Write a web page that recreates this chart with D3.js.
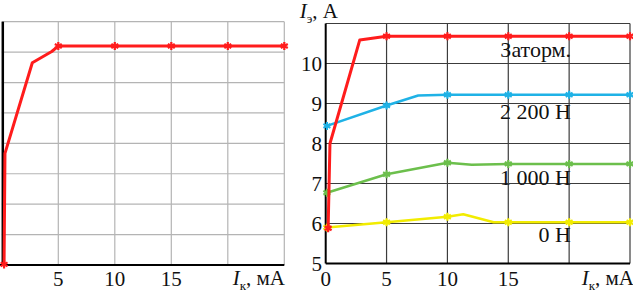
<!DOCTYPE html>
<html>
<head>
<meta charset="utf-8">
<script src="https://cdn.jsdelivr.net/npm/d3@7"></script>
<style>
  html, body { margin: 0; padding: 0; background: #fff; }
  svg { display: block; }
  svg text { font-family: 'Liberation Serif', 'Tinos', 'Times New Roman'; }
</style>
</head>
<body>
<div id="chart"></div>
<script>
// ---- data ----
const xTicksLeft = [5, 10, 15];
const xTicksRight = [0, 5, 10, 15];
const yTicksRight = [5, 6, 7, 8, 9, 10];
const markX = [5, 10, 15, 20, 25];

// left (cropped) panel, values in grid units
const leftX = [0.2, 0.28, 2.7, 4.42, 5, 10, 15, 20, 25];
const leftY = [0.02, 3.67, 6.65, 7.02, 7.2, 7.2, 7.2, 7.2, 7.2];

// right panel, I_э (A) vs I_к (mA)
const redX = [0.2, 0.35, 2.8, 5, 10, 15, 20, 25];
const redY = [5.88, 8.0, 10.59, 10.68, 10.68, 10.68, 10.68, 10.68];
const blueX = [0.1, 5, 7.6, 10, 15, 20, 25];
const blueY = [8.44, 8.95, 9.2, 9.22, 9.22, 9.22, 9.22];
const greenX = [0.1, 5, 10, 12, 15, 20, 25];
const greenY = [6.77, 7.23, 7.52, 7.47, 7.49, 7.49, 7.49];
const yellowX = [0.1, 5, 10, 11.3, 13.8, 15, 20, 25];
const yellowY = [5.9, 6.03, 6.17, 6.23, 6.03, 6.03, 6.03, 6.03];

const seriesLabels = ["Заторм.", "2 200 Н", "1 000 Н", "0 Н"];
const labelY = [10.16, 8.61, 6.96, 5.54];   // baseline, in A

const svg = d3.select("#chart").append("svg")
    .attr("width", 633)
    .attr("height", 293);

const zip = (xs, ys) => xs.map((x, i) => ({ x: x, y: ys[i] }));
const star = d3.symbol().type(d3.symbolAsterisk).size(45);

function drawSeries(g, x, y, pts, color, width) {
    const line = d3.line().x(d => x(d.x)).y(d => y(d.y));
    g.append("path")
        .datum(pts)
        .attr("fill", "none")
        .attr("stroke", color)
        .attr("stroke-width", width)
        .attr("stroke-linejoin", "round")
        .attr("d", line);
    const marks = pts.filter((d, i) => i === 0 || markX.includes(d.x));
    g.selectAll(null)
        .data(marks)
        .enter().append("path")
        .attr("transform", d => `translate(${x(d.x)},${y(d.y)})`)
        .attr("d", star)
        .attr("fill", "none")
        .attr("stroke", color)
        .attr("stroke-width", 2.2);
}

function txt(g, x, y, s, anchor, size) {
    return g.append("text")
        .attr("x", x).attr("y", y)
        .attr("text-anchor", anchor)
        .attr("font-family", "'Liberation Serif'")
        .attr("font-size", size || 21)
        .attr("fill", "#111")
        .text(s);
}

function axisTitle(g, xEnd, yBase, sub, unit) {
    const t = txt(g, xEnd, yBase, "", "end", 21);
    t.append("tspan").attr("font-style", "italic").text("I");
    t.append("tspan").attr("dy", 5).attr("font-size", 13).text(sub);
    t.append("tspan").attr("dy", -5).text(", " + unit);
}

// ---------- left panel ----------
const xL = d3.scaleLinear().domain([0, 25]).range([1.8, 284.3]);
const yL = d3.scaleLinear().domain([0, 8]).range([265, 21.7]);
const gL = svg.append("g");

gL.selectAll(null).data(d3.range(5, 26, 5)).enter().append("line")
    .attr("x1", d => xL(d)).attr("x2", d => xL(d))
    .attr("y1", yL(0)).attr("y2", yL(8))
    .attr("stroke", "#b4b4b4").attr("stroke-width", 1.2);
gL.selectAll(null).data(d3.range(1, 9)).enter().append("line")
    .attr("x1", xL(0)).attr("x2", xL(25))
    .attr("y1", d => yL(d)).attr("y2", d => yL(d))
    .attr("stroke", "#b4b4b4").attr("stroke-width", 1.2);
gL.append("line")
    .attr("x1", xL(0) + 1).attr("x2", xL(0) + 1)
    .attr("y1", yL(8)).attr("y2", yL(0))
    .attr("stroke", "#000").attr("stroke-width", 2.5);
gL.append("line")
    .attr("x1", 0).attr("x2", xL(25))
    .attr("y1", yL(0)).attr("y2", yL(0))
    .attr("stroke", "#000").attr("stroke-width", 2);

drawSeries(gL, xL, yL, zip(leftX, leftY), "#ff1c1c", 3);

xTicksLeft.forEach(d => txt(gL, xL(d), 286, String(d), "middle", 21));
axisTitle(gL, 285, 285, "к", "мА");

// ---------- right panel ----------
const xR = d3.scaleLinear().domain([0, 25]).range([325.7, 630]);
const yR = d3.scaleLinear().domain([5, 11]).range([263.5, 23.5]);
const gR = svg.append("g");

gR.selectAll(null).data(d3.range(5, 26, 5)).enter().append("line")
    .attr("x1", d => xR(d)).attr("x2", d => xR(d))
    .attr("y1", yR(5)).attr("y2", yR(11))
    .attr("stroke", "#3c3c3c").attr("stroke-width", 1.2);
gR.selectAll(null).data(d3.range(6, 12)).enter().append("line")
    .attr("x1", xR(0)).attr("x2", xR(25))
    .attr("y1", d => yR(d)).attr("y2", d => yR(d))
    .attr("stroke", "#3c3c3c").attr("stroke-width", 1.2);
gR.append("line")
    .attr("x1", xR(0)).attr("x2", xR(0))
    .attr("y1", yR(11)).attr("y2", yR(5))
    .attr("stroke", "#000").attr("stroke-width", 2);
gR.append("line")
    .attr("x1", xR(0)).attr("x2", xR(25))
    .attr("y1", yR(5)).attr("y2", yR(5))
    .attr("stroke", "#000").attr("stroke-width", 2);

drawSeries(gR, xR, yR, zip(yellowX, yellowY), "#f2ec00", 2.5);
drawSeries(gR, xR, yR, zip(greenX, greenY), "#6cbf4c", 2.5);
drawSeries(gR, xR, yR, zip(blueX, blueY), "#1fb2e6", 2.5);
drawSeries(gR, xR, yR, zip(redX, redY), "#ff1c1c", 3);

seriesLabels.forEach((s, i) => txt(gR, 571, yR(labelY[i]), s, "end", 22));

xTicksRight.forEach(d => txt(gR, xR(d), 286, String(d), "middle", 21));
yTicksRight.forEach(d => txt(gR, 322, yR(d) + 7, String(d), "end", 21));

axisTitle(gR, 634, 285, "к", "мА");
axisTitle(gR, 338, 18, "э", "A");
</script>
</body>
</html>
